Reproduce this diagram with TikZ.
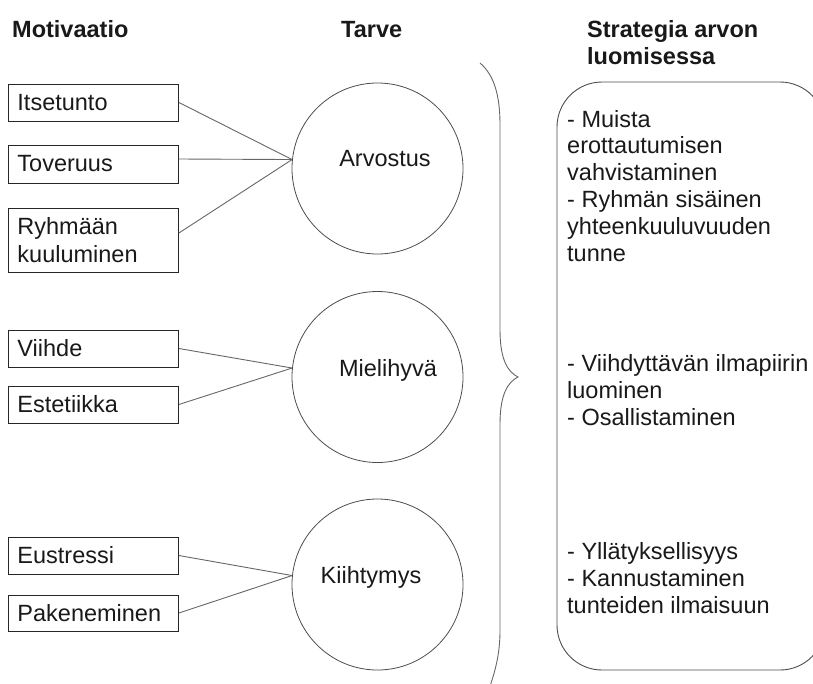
\documentclass[tikz,border=0pt]{standalone}
\usepackage{fontspec}
\setmainfont{Liberation Sans}
\begin{document}
\begin{tikzpicture}[x=1pt,y=-1pt,
  every node/.style={font=\fontsize{23.5}{26.8}\selectfont, text=black!90},
  mbox/.style={draw=black!85, line width=0.9pt, minimum width=170pt, text width=152pt, align=left, inner xsep=9pt, inner ysep=0pt, anchor=west},
  need/.style={draw=black!70, line width=0.8pt, circle, minimum size=171pt, inner sep=0pt},
  conn/.style={draw=black!60, line width=0.9pt},
  hdr/.style={font=\fontsize{23.5}{27}\selectfont\bfseries, anchor=base west, inner sep=0pt, align=left},
  strat/.style={anchor=base west, inner sep=0pt, align=left}
]
\useasboundingbox (0,0) rectangle (813,683);
\clip (0,0) rectangle (813,683);

% headers
\node[hdr] (h1) at (12,37) {Motivaatio};
\node[hdr] (h2) at (341,37) {Tarve};
\node[hdr] (h3) at (587,64) {Strategia arvon\\luomisessa};

% motivation boxes
\node[mbox, minimum height=37pt] (its) at (8,102.5) {Itsetunto};
\node[mbox, minimum height=38pt] (tov) at (8,164) {Toveruus};
\node[mbox, minimum height=64pt, font=\fontsize{23.5}{28}\selectfont] (ryh) at (8,240) {Ryhmään\\kuuluminen};
\node[mbox, minimum height=37pt] (vii) at (8,348.5) {Viihde};
\node[mbox, minimum height=37pt] (est) at (8,404.5) {Estetiikka};
\node[mbox, minimum height=37pt] (eus) at (8,555.5) {Eustressi};
\node[mbox, minimum height=36pt] (pak) at (8,613) {Pakeneminen};

% need circles
\node[need] (arv) at (377.5,168.5) {};
\node[need] (mie) at (377.5,377) {};
\node[need] (kii) at (377.5,584.5) {};
\node (arvt) at (385,159) {Arvostus};
\node (miet) at (388,370) {Mielihyvä};
\node (kiit) at (371,577) {Kiihtymys};

% connectors
\draw[conn] (its.east) -- (arv.174);
\draw[conn] ([yshift=5pt]tov.east) -- (arv.174);
\draw[conn] ([yshift=7pt]ryh.east) -- (arv.174);
\draw[conn] (vii.east) -- (mie.174);
\draw[conn] (est.east) -- (mie.174);
\draw[conn] (eus.east) -- (kii.174);
\draw[conn] (pak.east) -- (kii.174);

% brace
\draw[draw=black!60, line width=0.9pt] (480,63) .. controls (494,75) and (500,95) .. (500,125)
  -- (500,330) .. controls (500,360) and (508,372) .. (518,377)
  .. controls (508,382) and (500,394) .. (500,424)
  -- (500,630) .. controls (500,655) and (495,672) .. (488,692);

% strategy box
\node[draw=black!70, line width=0.9pt, rounded corners=45pt, minimum width=268pt, minimum height=588pt, inner sep=0pt] (sbox) at (691,376) {};
\node[strat] (s1) at (567,261) {- Muista\\erottautumisen\\vahvistaminen\\- Ryhmän sisäinen\\yhteenkuuluvuuden\\tunne};
\node[strat] (s2) at (567,425) {- Viihdyttävän ilmapiirin\\luominen\\- Osallistaminen};
\node[strat] (s3) at (567,613) {- Yllätyksellisyys\\- Kannustaminen\\tunteiden ilmaisuun};
\end{tikzpicture}
\end{document}
